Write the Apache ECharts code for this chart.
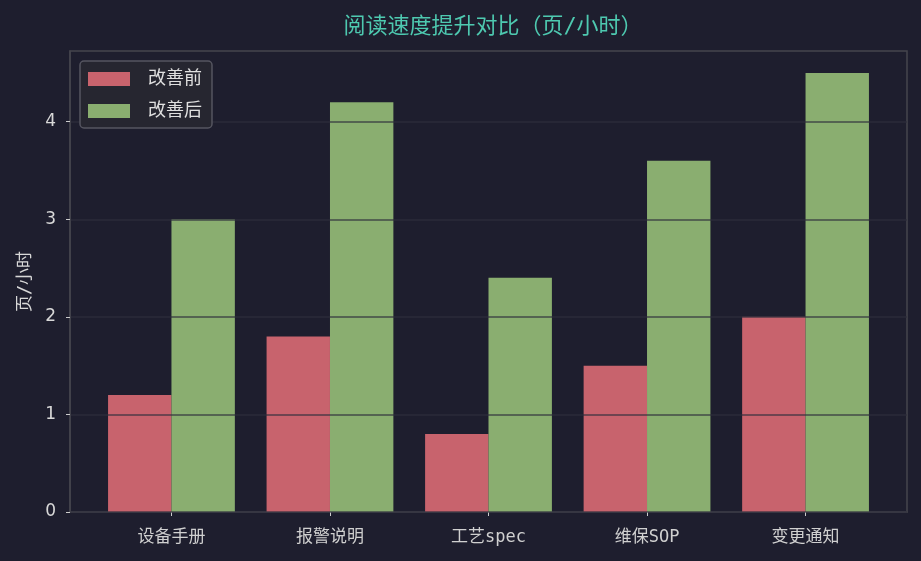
<!DOCTYPE html>
<html>
<head>
<meta charset="utf-8">
<script src="https://cdn.jsdelivr.net/npm/echarts@6/dist/echarts.min.js"></script>
<style>
  html, body { margin: 0; padding: 0; background: #1e1e2e; }
  #chart { width: 921px; height: 561px; }
</style>
</head>
<body>
<div id="chart"></div>
<script>
// 阅读速度对比：改善前 / 改善后（页/小时）
const categories = ['设备手册', '报警说明', '工艺spec', '维保SOP', '变更通知'];
const before = [1.2, 1.8, 0.8, 1.5, 2.0];
const after = [3.0, 4.2, 2.4, 3.6, 4.5];
const yTicks = [0, 1, 2, 3, 4];

const FONT = '"DejaVu Sans Mono", "Noto Sans CJK SC", sans-serif';
const NUM_FONT = '"DejaVu Sans", sans-serif';
const catIdx = categories.map((_, i) => i);

const chart = echarts.init(document.getElementById('chart'));
chart.setOption({
  backgroundColor: '#1e1e2e',
  animation: false,
  textStyle: { fontFamily: FONT },
  title: {
    text: '阅读速度提升对比（页/小时）',
    left: 488,
    textAlign: 'center',
    top: 11,
    textStyle: { color: '#4ec9b0', fontSize: 22, fontWeight: 'normal', fontFamily: FONT },
  },
  legend: {
    orient: 'vertical',
    left: 80,
    top: 61,
    data: ['改善前', '改善后'],
    icon: 'rect',
    itemWidth: 42,
    itemHeight: 14,
    itemGap: 14,
    padding: [9, 10, 8, 8],
    backgroundColor: '#262630',
    borderColor: '#555560',
    borderWidth: 1.5,
    borderRadius: 4,
    textStyle: { color: '#e0e0e0', fontSize: 18, padding: [0, 0, 0, 13], fontFamily: FONT },
  },
  grid: {
    left: 70, right: 14, top: 51, bottom: 49,
    show: true, borderColor: '#45454d', borderWidth: 1.5,
  },
  xAxis: {
    type: 'value',
    min: -0.64,
    max: 4.64,
    splitLine: { show: false },
    axisLine: { show: true, onZero: false, lineStyle: { color: '#45454d', width: 1.5 } },
    axisTick: { show: true, customValues: catIdx, length: 4, lineStyle: { color: '#cccccc' } },
    axisLabel: {
      customValues: catIdx,
      formatter: v => categories[Math.round(v)],
      color: '#d0d0d0', fontSize: 17, margin: 17, fontFamily: FONT,
    },
  },
  yAxis: {
    type: 'value',
    min: 0,
    max: 4.725,
    z: 3,
    name: '页/小时',
    nameLocation: 'middle',
    nameGap: 36,
    nameTextStyle: { color: '#d8d8d8', fontSize: 17, fontFamily: FONT },
    axisLine: { show: true, onZero: false, lineStyle: { color: '#45454d', width: 1.5 } },
    axisTick: { show: true, customValues: yTicks, length: 4, lineStyle: { color: '#cccccc' } },
    axisLabel: { customValues: yTicks, color: '#d8d8d8', fontSize: 17, margin: 14, fontFamily: NUM_FONT },
    splitLine: { show: true, lineStyle: { color: 'rgba(47,47,60,0.78)', width: 1.5 } },
  },
  series: [
    {
      name: '改善前', type: 'bar',
      data: before.map((v, i) => [i, v]),
      barWidth: 63.4, barGap: '0%',
      itemStyle: { color: '#c8636d' },
    },
    {
      name: '改善后', type: 'bar',
      data: after.map((v, i) => [i, v]),
      barWidth: 63.4, barGap: '0%',
      itemStyle: { color: '#8aae70' },
    },
  ],
});
</script>
</body>
</html>
